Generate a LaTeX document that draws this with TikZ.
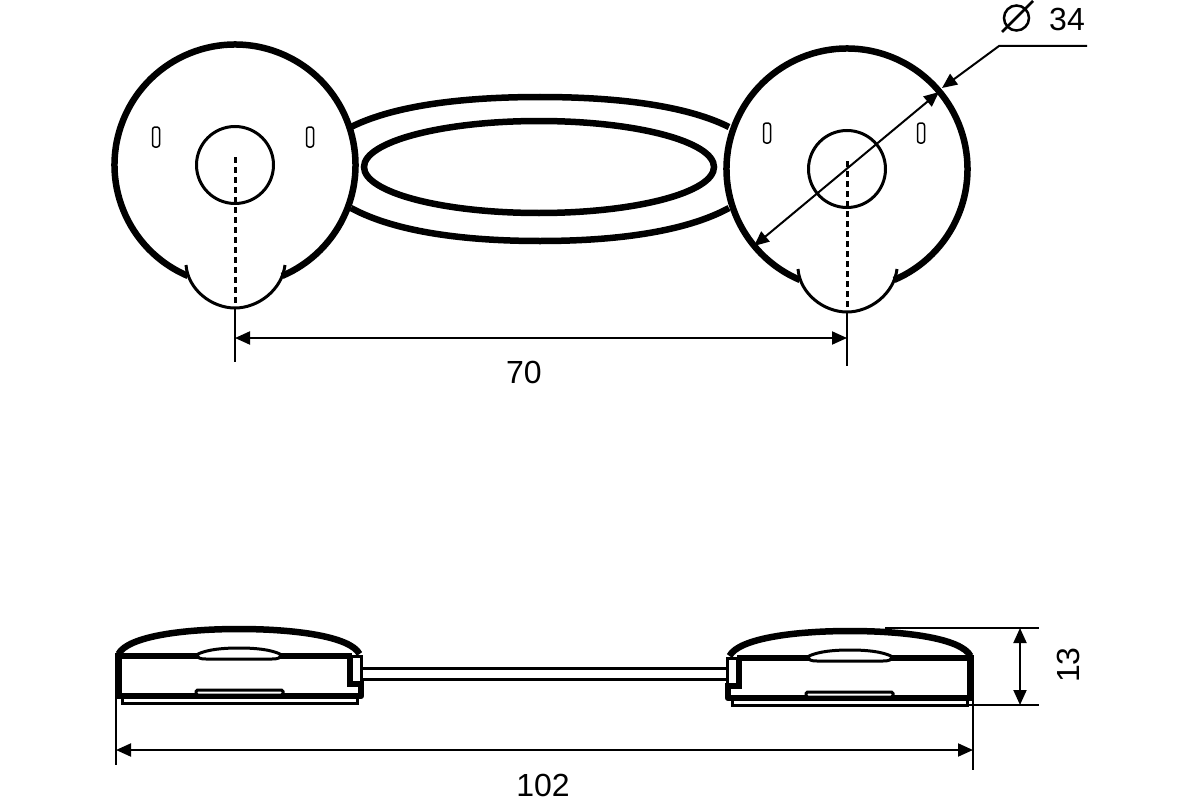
\documentclass[tikz,border=0pt]{standalone}
\usepackage{fontspec}
\setmainfont{Liberation Sans}
\usetikzlibrary{arrows.meta, positioning}
\tikzset{
    thickline/.style={draw=black, line width=6.5pt},
    mediumline/.style={draw=black, line width=3pt},
    dimline/.style={draw=black, line width=2pt},
    dimarrow/.style={draw=black, line width=2pt, {Triangle[length=15pt, width=13pt]}-{Triangle[length=15pt, width=13pt]}},
    dimlabel/.style={font=\fontsize{32}{36}\selectfont, inner sep=0pt}
}
% one side view, drawn for the left part
\newcommand{\sideview}{
    \draw[thickline] (118.5,654) .. controls (128,636) and (185,629) .. (239,629) .. controls (293,629) and (350,636) .. (359.5,654);
    \draw[line width=6.5pt] (118.5,653) -- (118.5,696) -- (360,696);
    \draw[line width=6.5pt] (118,656) -- (352,656);
    \draw[mediumline] (352,656) -- (361.5,656) -- (361.5,683);
    \draw[line width=6.5pt] (350,657) -- (350,684) -- (358,684);
    \draw[line width=6.5pt, line join=round] (361,681) -- (361,696) -- (355,696);
    \draw[mediumline] (122,699) -- (122,703.5) -- (357,703.5) -- (357,699);
    \draw[mediumline, fill=white] (196,655) .. controls (207,649) and (225,648) .. (239,648) .. controls (253,648) and (271,649) .. (282,655) .. controls (280,658) and (278,659) .. (272,659) -- (206,659) .. controls (200,659) and (198,658) .. (196,655) -- cycle;
    \draw[mediumline, fill=white, rounded corners=1.5pt] (196,695) -- (196,690) -- (283,690) -- (283,695) -- cycle;
}
\begin{document}
\begin{tikzpicture}[x=1pt, y=-1pt]
    \useasboundingbox (0,0) rectangle (1200,800);
    % Ring
    \draw[thickline] (351,127) .. controls (395,105) and (465,97) .. (540,97) .. controls (615,97) and (685,105) .. (729,127);
    \draw[thickline] (351,208) .. controls (395,232) and (465,241) .. (540,241) .. controls (615,241) and (685,232) .. (729,208);
    \draw[thickline] (539,167) ellipse (175 and 46);
    % Discs
    \foreach \name/\cx/\cy/\slotl/\slotr/\sloty in {left/235/165/156/310/137, right/847/169/767/921/133} {
        \coordinate (\name hub) at (\cx,\cy);
        \fill[white] (\cx,\cy) circle (121);
        \begin{scope}[shift={(\cx,\cy)}]
            \draw[thickline] (113:120.5) arc (113:427:120.5);
            \draw[mediumline] (0,0) circle (38.5);
            \draw[mediumline, dash pattern=on 6pt off 4pt] (0,-8) -- (0,142);
            \draw[mediumline] (-49,100) .. controls (-47,125) and (-23,143) .. (0,143) .. controls (23,143) and (47,125) .. (50,100);
            \coordinate (\name foot) at (0,143);
        \end{scope}
        \foreach \sx in {\slotl,\slotr} {
            \draw[line width=1.5pt, rounded corners=2.5pt] (\sx-3.5,\sloty-10) rectangle (\sx+3.5,\sloty+10);
        }
    }
    % Dimension 70
    \coordinate (seventyl) at (235,362);
    \coordinate (seventyr) at (847,366);
    \draw[dimline] (leftfoot) -- (seventyl);
    \draw[dimline] (rightfoot) -- (seventyr);
    \coordinate (seventyla) at (235,338);
    \coordinate (seventyra) at (847,338);
    \draw[dimarrow] (seventyla) -- (seventyra);
    \node[dimlabel] (seventy) at (524,372) {70};
    % Dimension 34
    \coordinate (diaa) at (754,246);
    \coordinate (diab) at (939,92);
    \coordinate (leadertip) at (942,88);
    \coordinate (leaderbend) at (999,46);
    \coordinate (leaderend) at (1087,46);
    \draw[dimarrow] (diaa) -- (diab);
    \draw[dimline, {Triangle[length=15pt, width=13pt]}-] (leadertip) -- (leaderbend) -- (leaderend);
    \draw[line width=2.5pt] (1016.5,18) circle (12.5);
    \draw[line width=2.5pt] (1002,32) -- (1033,1);
    \node[dimlabel] (thirtyfour) at (1067,19) {34};
    % Side views
    \draw[mediumline] (363,668) -- (727,668);
    \draw[mediumline] (363,679) -- (727,679);
    \sideview
    \begin{scope}[shift={(1089,2)}, xscale=-1]
        \sideview
    \end{scope}
    % Dimension 13
    \coordinate (thirteent) at (1020,628);
    \coordinate (thirteenb) at (1020,705);
    \draw[dimline] (885,628) -- (1039,628);
    \draw[dimline] (968,705) -- (1039,705);
    \draw[dimarrow] (thirteent) -- (thirteenb);
    \node[dimlabel, rotate=90] (thirteen) at (1068,665) {13};
    % Dimension 102
    \coordinate (longl) at (116,750);
    \coordinate (longr) at (973,750);
    \draw[dimline] (116,695) -- (116,765);
    \draw[dimline] (973,700) -- (973,770);
    \draw[dimarrow] (longl) -- (longr);
    \node[dimlabel] (long) at (543,785) {102};
\end{tikzpicture}
\end{document}
